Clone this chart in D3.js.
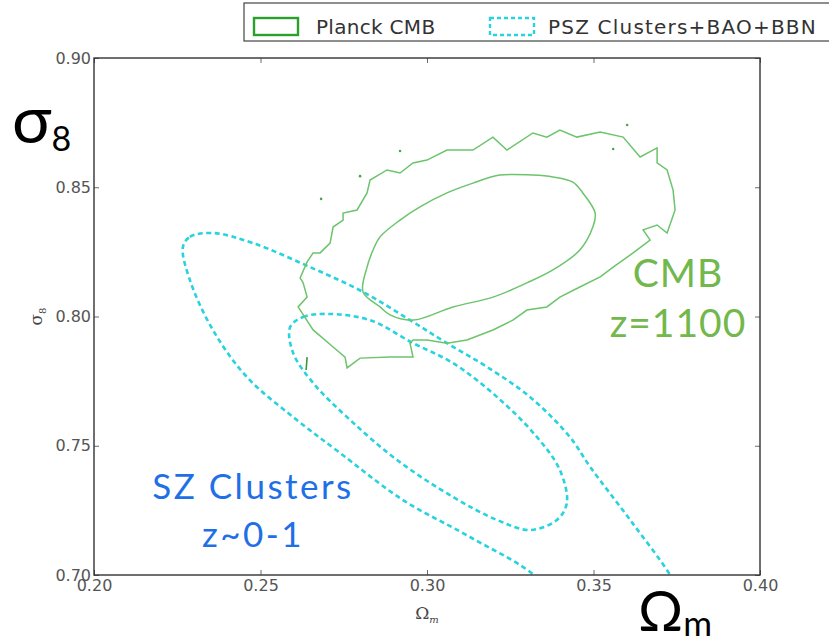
<!DOCTYPE html>
<html>
<head>
<meta charset="utf-8">
<script src="https://cdn.jsdelivr.net/npm/d3@7"></script>
<style>
  html, body { margin: 0; padding: 0; background: #fff; }
  svg { display: block; }
</style>
</head>
<body>
<div id="chart"></div>
<script>
// [Omega_m, sigma_8] pairs
var cmbOuter = [
  [0.2640, 0.8211], [0.2658, 0.8246], [0.2679, 0.8246], [0.2709, 0.8284], [0.2718, 0.8346],
  [0.2748, 0.8373], [0.2748, 0.8400], [0.2790, 0.8412], [0.2820, 0.8478], [0.2829, 0.8528],
  [0.2880, 0.8567], [0.2919, 0.8555], [0.2958, 0.8594], [0.3000, 0.8605], [0.3060, 0.8644],
  [0.3138, 0.8644], [0.3198, 0.8694], [0.3240, 0.8644], [0.3318, 0.8710], [0.3360, 0.8694],
  [0.3399, 0.8721], [0.3450, 0.8694], [0.3520, 0.8714], [0.3589, 0.8694], [0.3640, 0.8617],
  [0.3691, 0.8652], [0.3691, 0.8594], [0.3721, 0.8567], [0.3739, 0.8489], [0.3745, 0.8412],
  [0.3721, 0.8323], [0.3691, 0.8354], [0.3649, 0.8335], [0.3670, 0.8296], [0.3619, 0.8246],
  [0.3559, 0.8191], [0.3520, 0.8153], [0.3459, 0.8114], [0.3399, 0.8075], [0.3360, 0.8037],
  [0.3300, 0.8025], [0.3258, 0.7986], [0.3198, 0.7948], [0.3120, 0.7909], [0.3060, 0.7897],
  [0.3000, 0.7909], [0.2958, 0.7909], [0.2949, 0.7897], [0.2958, 0.7843], [0.2889, 0.7843],
  [0.2799, 0.7839], [0.2760, 0.7801], [0.2754, 0.7843], [0.2718, 0.7882], [0.2658, 0.7948],
  [0.2613, 0.8037], [0.2640, 0.8075], [0.2628, 0.8130], [0.2619, 0.8149]
];
var cmbInner = [
  [0.2808, 0.8095], [0.2820, 0.8191], [0.2838, 0.8257], [0.2859, 0.8308], [0.2919, 0.8373],
  [0.2979, 0.8424], [0.3060, 0.8478], [0.3138, 0.8516], [0.3219, 0.8547], [0.3318, 0.8547],
  [0.3378, 0.8540], [0.3438, 0.8520], [0.3468, 0.8478], [0.3505, 0.8400], [0.3498, 0.8346],
  [0.3459, 0.8257], [0.3378, 0.8180], [0.3300, 0.8130], [0.3198, 0.8075], [0.3078, 0.8037],
  [0.2958, 0.7986], [0.2889, 0.8006], [0.2859, 0.8037]
];
var cmbSpecks = [[0.2919, 0.8640], [0.2799, 0.8543], [0.2682, 0.8455], [0.3559, 0.8648], [0.3601, 0.8741]];
var cmbStroke = [[0.2640, 0.7843], [0.2637, 0.7793]];

var szOuter = [
  [0.2267, 0.8269], [0.2288, 0.8308], [0.2357, 0.8323], [0.2477, 0.8284], [0.2649, 0.8191],
  [0.2808, 0.8095], [0.2949, 0.7986], [0.3060, 0.7897], [0.3180, 0.7805], [0.3309, 0.7689],
  [0.3429, 0.7534], [0.3490, 0.7418], [0.3610, 0.7213], [0.3736, 0.6988], [0.3790, 0.6845],
  [0.3760, 0.6710], [0.3640, 0.6671], [0.3490, 0.6768], [0.3330, 0.6992], [0.3129, 0.7147],
  [0.2928, 0.7290], [0.2739, 0.7472], [0.2598, 0.7611], [0.2459, 0.7766], [0.2357, 0.7948],
  [0.2288, 0.8141]
];
var szInner = [
  [0.2589, 0.7959], [0.2628, 0.7998], [0.2700, 0.8010], [0.2829, 0.7986], [0.2958, 0.7897],
  [0.3078, 0.7820], [0.3210, 0.7689], [0.3330, 0.7534], [0.3399, 0.7406], [0.3420, 0.7279],
  [0.3390, 0.7213], [0.3309, 0.7174], [0.3210, 0.7213], [0.3078, 0.7302], [0.2910, 0.7445],
  [0.2769, 0.7600], [0.2658, 0.7743], [0.2598, 0.7859]
];

var xTicks = [0.20, 0.25, 0.30, 0.35, 0.40];
var yTicks = [0.70, 0.75, 0.80, 0.85, 0.90];
var legendLabels = ['Planck CMB', 'PSZ Clusters+BAO+BBN'];

var W = 829, H = 642;
var margin = { top: 58, right: 69, bottom: 67, left: 94 };
var iw = W - margin.left - margin.right;
var ih = H - margin.top - margin.bottom;

var green = '#6cc46c', cyan = '#29d3dd';

var x = d3.scaleLinear().domain([0.20, 0.40]).range([0, iw]);
var y = d3.scaleLinear().domain([0.70, 0.90]).range([ih, 0]);

var svg = d3.select('#chart').append('svg').attr('width', W).attr('height', H);
svg.append('defs').append('clipPath').attr('id', 'plotclip')
  .append('rect').attr('width', iw).attr('height', ih);

var g = svg.append('g').attr('transform', 'translate(' + margin.left + ',' + margin.top + ')');
var plot = g.append('g').attr('clip-path', 'url(#plotclip)');

var jagged = d3.line().x(function (d) { return x(d[0]); }).y(function (d) { return y(d[1]); })
  .curve(d3.curveLinearClosed);
var smooth = d3.line().x(function (d) { return x(d[0]); }).y(function (d) { return y(d[1]); })
  .curve(d3.curveCatmullRomClosed.alpha(0.5));

// SZ ellipses
[szOuter, szInner].forEach(function (c) {
  plot.append('path').datum(c).attr('d', smooth)
    .attr('fill', 'none').attr('stroke', cyan).attr('stroke-width', 2.6)
    .attr('stroke-dasharray', '5,3.5');
});

// CMB contours
plot.append('path').datum(cmbOuter).attr('d', jagged)
  .attr('fill', 'none').attr('stroke', green).attr('stroke-width', 1.5);
plot.append('path').datum(cmbInner).attr('d', smooth)
  .attr('fill', 'none').attr('stroke', green).attr('stroke-width', 1.5);
plot.selectAll('circle.speck').data(cmbSpecks).enter().append('circle')
  .attr('class', 'speck').attr('cx', function (d) { return x(d[0]); }).attr('cy', function (d) { return y(d[1]); })
  .attr('r', 1.3).attr('fill', '#4aa84a');
plot.append('path').datum(cmbStroke).attr('d', d3.line().x(function (d) { return x(d[0]); }).y(function (d) { return y(d[1]); }))
  .attr('stroke', '#3a9a3a').attr('stroke-width', 1.6).attr('fill', 'none');

// axes
var tickFmt = d3.format('.2f');
var axStyle = function (sel) {
  sel.select('.domain').remove();
  sel.selectAll('.tick line').attr('stroke', '#444').attr('stroke-width', 0.8);
  sel.selectAll('.tick text').attr('fill', '#555').attr('font-size', 16)
    .attr('font-family', 'DejaVu Sans, sans-serif');
};
g.append('g').attr('transform', 'translate(0,' + ih + ')')
  .call(d3.axisBottom(x).tickValues(xTicks).tickFormat(tickFmt).tickSizeInner(-5).tickPadding(5))
  .call(axStyle);
g.append('g')
  .call(d3.axisLeft(y).tickValues(yTicks).tickFormat(tickFmt).tickSizeInner(-5).tickPadding(3))
  .call(axStyle);
g.append('g')
  .call(d3.axisTop(x).tickValues(xTicks).tickFormat('').tickSizeInner(-5)).call(axStyle);
g.append('g').attr('transform', 'translate(' + iw + ',0)')
  .call(d3.axisRight(y).tickValues(yTicks).tickFormat('').tickSizeInner(-5)).call(axStyle);

g.append('rect').attr('width', iw).attr('height', ih)
  .attr('fill', 'none').attr('stroke', '#333').attr('stroke-width', 1.4);

// small axis labels
g.append('text').attr('x', iw / 2).attr('y', ih + 44)
  .attr('text-anchor', 'middle').attr('font-family', 'DejaVu Serif, serif').attr('font-size', 17).attr('fill', '#444')
  .html('&#937;<tspan font-size="10" dy="4" font-style="italic">m</tspan>');
g.append('text').attr('transform', 'translate(-52,' + (ih / 2) + ') rotate(-90)')
  .attr('text-anchor', 'middle').attr('font-family', 'DejaVu Serif, serif').attr('font-size', 17).attr('fill', '#444')
  .html('&#963;<tspan font-size="10" dy="4">8</tspan>');

// big labels
svg.append('text').attr('x', 12).attr('y', 143)
  .attr('font-family', 'Lato, sans-serif').attr('font-size', 66).attr('fill', '#000')
  .html('&#963;<tspan font-size="34" dy="8">8</tspan>');
svg.append('text').attr('x', 638).attr('y', 631)
  .attr('font-family', 'Lato, sans-serif').attr('font-size', 56).attr('fill', '#000')
  .html('&#937;<tspan font-size="35" dy="5">m</tspan>');

// annotations
var cmbTxt = svg.append('text').attr('text-anchor', 'middle')
  .attr('font-family', 'Lato, sans-serif').attr('font-size', 39).attr('fill', '#72b84c')
  .attr('letter-spacing', 1);
cmbTxt.append('tspan').attr('x', 678).attr('y', 287).text('CMB');
cmbTxt.append('tspan').attr('x', 678).attr('y', 337).text('z=1100');

var szTxt = svg.append('text').attr('text-anchor', 'middle')
  .attr('font-family', 'Lato, sans-serif').attr('font-size', 35).attr('fill', '#1f6fe6')
  .attr('letter-spacing', 2.5);
szTxt.append('tspan').attr('x', 253).attr('y', 499).text('SZ Clusters');
szTxt.append('tspan').attr('x', 253).attr('y', 547).text('z~0-1');

// legend
var lg = svg.append('g');
lg.append('rect').attr('x', 244).attr('y', 3).attr('width', 600).attr('height', 38)
  .attr('fill', '#fff').attr('stroke', '#444').attr('stroke-width', 1.2);
var swatches = [
  { x: 254, tx: 316, color: '#2ca02c', dash: null, ls: 0.3 },
  { x: 490, tx: 548, color: cyan, dash: '4,3', ls: 1.2 }
];
swatches.forEach(function (s, i) {
  lg.append('rect').attr('x', s.x).attr('y', 18).attr('width', 44).attr('height', 17)
    .attr('fill', 'none').attr('stroke', s.color).attr('stroke-width', 2.4)
    .attr('stroke-dasharray', s.dash);
  lg.append('text').attr('x', s.tx).attr('y', 34)
    .attr('font-family', 'DejaVu Sans, sans-serif').attr('font-size', 20).attr('fill', '#333')
    .attr('letter-spacing', s.ls)
    .text(legendLabels[i]);
});
</script>
</body>
</html>
